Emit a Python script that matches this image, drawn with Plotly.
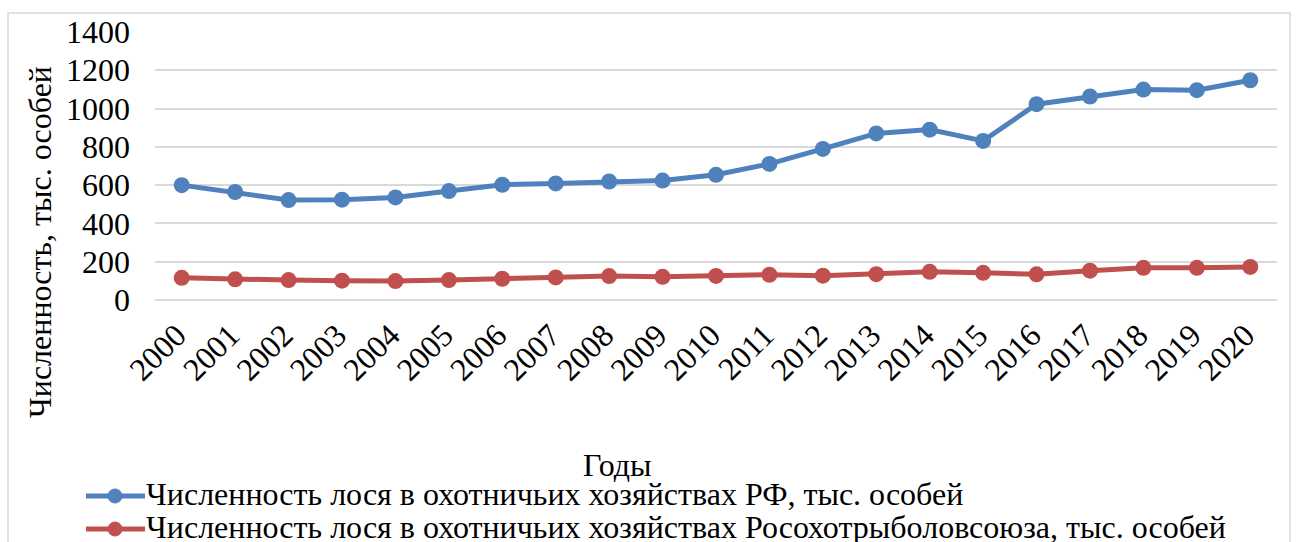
import plotly.graph_objects as go

years = [str(y) for y in range(2000, 2021)]
moose_rf = [600, 564, 522, 524, 536, 569, 602, 609, 619, 624, 654, 711, 789, 870, 890, 831, 1023, 1063, 1099, 1096, 1148]
moose_rosohot = [116, 108, 104, 101, 99, 104, 111, 118, 125, 121, 126, 132, 127, 135, 147, 142, 134, 153, 168, 168, 173]

name_rf = "Численность лося в охотничьих хозяйствах РФ, тыс. особей"
name_ro = "Численность лося в охотничьих хозяйствах Росохотрыболовсоюза, тыс. особей"

FONT = "Liberation Serif, Times New Roman, serif"
FS = 32
BLUE = "#4F81BD"
RED = "#C0504D"

fig = go.Figure()
fig.add_trace(go.Scatter(x=years, y=moose_rf, name=name_rf, mode="lines+markers",
                         line=dict(color=BLUE, width=5), marker=dict(size=16, color=BLUE)))
fig.add_trace(go.Scatter(x=years, y=moose_rosohot, name=name_ro, mode="lines+markers",
                         line=dict(color=RED, width=5), marker=dict(size=16, color=RED)))

L, R, T, B = 155, 22, 32, 242
W, H = 1299, 542
pw = W - L - R
ph = H - T - B

def px(x):
    return (x - L) / pw

def py(y):
    return (H - B - y) / ph

shapes = [dict(type="rect", xref="paper", yref="paper",
               x0=px(8), x1=px(1290), y0=py(560), y1=py(13),
               line=dict(color="#D9D9D9", width=1.5), fillcolor="rgba(0,0,0,0)", layer="below")]
annotations = [
    dict(text="Численность, тыс. особей", textangle=-90, xref="paper", yref="paper",
         x=px(40), y=py(242), showarrow=False, font=dict(family=FONT, size=FS),
         xanchor="center", yanchor="middle"),
    dict(text="Годы", xref="paper", yref="paper", x=px(617), y=py(465),
         showarrow=False, font=dict(family=FONT, size=FS), xanchor="center", yanchor="middle"),
]

# manual legend
for i, (nm, col) in enumerate([(name_rf, BLUE), (name_ro, RED)]):
    yy = 496 + i * 33
    shapes.append(dict(type="line", xref="paper", yref="paper", x0=px(86), x1=px(145),
                       y0=py(yy), y1=py(yy), line=dict(color=col, width=5)))
    shapes.append(dict(type="circle", xref="paper", yref="paper", x0=px(108), x1=px(122),
                       y0=py(yy + 7), y1=py(yy - 7), line=dict(color=col, width=1), fillcolor=col))
    annotations.append(dict(text=nm, xref="paper", yref="paper", x=px(144), y=py(yy - 2),
                            showarrow=False, font=dict(family=FONT, size=FS),
                            xanchor="left", yanchor="middle"))

fig.update_layout(
    width=W, height=H,
    margin=dict(l=L, r=R, t=T, b=B, autoexpand=False),
    paper_bgcolor="white", plot_bgcolor="white",
    font=dict(family=FONT, size=FS, color="black"),
    showlegend=False,
    xaxis=dict(type="category", tickangle=-45, showgrid=False, zeroline=False,
               showline=False, ticks="", tickfont=dict(family=FONT, size=FS),
               ticklabelstandoff=9, ticklabelshift=-5,
               range=[-0.5, 20.5], automargin=False),
    yaxis=dict(range=[0, 1400], dtick=200, showgrid=True, gridcolor="#D9D9D9", gridwidth=2,
               zeroline=True, zerolinecolor="#D9D9D9", zerolinewidth=2,
               showline=False, ticks="", ticklabelstandoff=24, automargin=False,
               tickfont=dict(family=FONT, size=FS)),
    shapes=shapes,
    annotations=annotations,
)

fig.write_html("out.html")
